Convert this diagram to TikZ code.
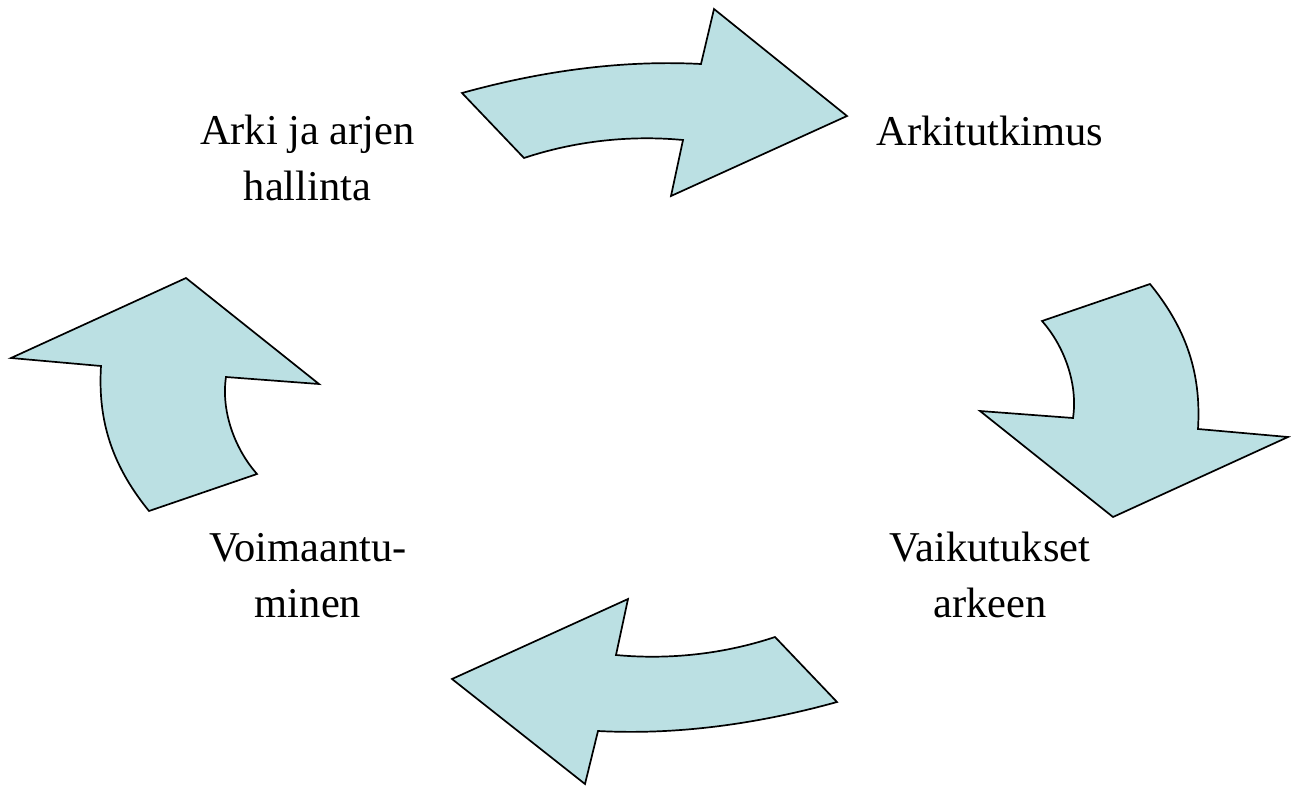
\documentclass[tikz,border=0pt]{standalone}
\usepackage{fontspec}
\setmainfont{Liberation Serif}
\definecolor{arrowfill}{HTML}{BBE0E3}
\begin{document}
\begin{tikzpicture}[x=1pt,y=-1pt,
  cyclearrow/.style={draw=black,fill=arrowfill,line width=1.7pt,line join=miter},
  label/.style={font=\fontsize{42.5}{55.5}\selectfont,align=center,anchor=base,inner sep=0pt}]
\useasboundingbox (0,0) rectangle (1291,785);
% top arrow
\draw[cyclearrow] (462,93) .. controls (545,70) and (625,60) .. (701,64) -- (714,9) -- (847,116) -- (671,196) -- (683,140) .. controls (630,135) and (575,141) .. (524,158) -- cycle;
% right arrow
\draw[cyclearrow] (1042,321) -- (1150,284) .. controls (1190,333) and (1201,379) .. (1198,429) -- (1288,437) -- (1113,517) -- (980,411) -- (1073,418) .. controls (1078,385) and (1065,347) .. (1042,321) -- cycle;
% bottom arrow
\draw[cyclearrow] (837,702) .. controls (754,725) and (674,735) .. (598,731) -- (585,784) -- (452,679) -- (628,599) -- (616,655) .. controls (669,660) and (724,654) .. (775,637) -- cycle;
% left arrow
\draw[cyclearrow] (257,474) -- (149,511) .. controls (109,462) and (98,416) .. (101,366) -- (11,358) -- (186,278) -- (319,384) -- (226,377) .. controls (221,410) and (234,448) .. (257,474) -- cycle;
% labels (base anchor = baseline of last line)
\node[label] (arki) at (307.5,200) {Arki ja arjen\\hallinta};
\node[label] (tutkimus) at (990,145) {Arkitutkimus};
\node[label] (vaikutukset) at (990,617) {Vaikutukset\\arkeen};
\node[label] (voima) at (308,617) {Voimaantu-\\minen};
\end{tikzpicture}
\end{document}
